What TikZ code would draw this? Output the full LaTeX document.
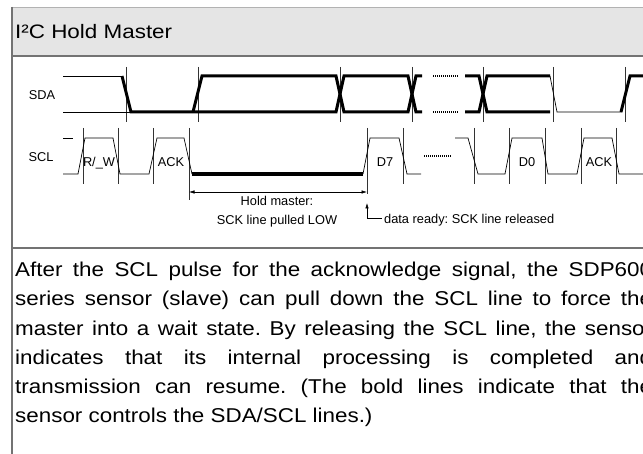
\documentclass[tikz,border=0pt]{standalone}
\usepackage{fontspec}
\setmainfont[FakeStretch=1.15]{Liberation Sans}
\newfontfamily\lblfont{Liberation Sans}
\newfontfamily\bodyfont[FakeStretch=1.12]{Liberation Sans}
\usetikzlibrary{arrows.meta}
\frenchspacing
\begin{document}
\begin{tikzpicture}[x=1pt,y=-1pt,
  thinw/.style={line width=0.7pt},
  boldw/.style={line width=3pt},
  boldlow/.style={line width=4pt},
  guide/.style={line width=0.6pt, black!80},
  dots/.style={line width=1.2pt, dash pattern=on 1pt off 1pt},
  lbl/.style={font=\lblfont\fontsize{12.8}{15}\selectfont, inner sep=0pt, anchor=base},
  body/.style={font=\bodyfont\fontsize{20}{29}\selectfont, inner sep=0pt, anchor=base west},
  frame/.style={line width=1.2pt, black!55},
  dim/.style={line width=0.6pt, {Latex[length=5.5pt,width=3.5pt]}-{Latex[length=5.5pt,width=3.5pt]}},
]
\clip (0,0) rectangle (643,454);
\fill[white] (0,0) rectangle (643,454);
% frame and title band
\fill[black!10] (12,7) rectangle (660,56);
\draw[black!30, line width=0.8pt] (12,7) -- (660,7);
\draw[frame] (12,7) -- (12,460);
\draw[frame] (12,56) -- (660,56);
\draw[frame] (12,248) -- (660,248);
\node[anchor=base west, font=\fontsize{19.5}{23}\selectfont, inner sep=0pt] (title) at (15,39) {I²C Hold Master};

% signal names
\node[lbl] (sda) at (42,100) {SDA};
\node[lbl] (scl) at (41,162) {SCL};

% guides SDA
\foreach \x in {126,198,340,412,483,553,625} \draw[guide] (\x,67) -- (\x,122);
% guides SCL
\foreach \x in {83,118,153,403,474,509,545,581,616} \draw[guide] (\x,128) -- (\x,184);
\draw[guide] (189,128) -- (189,200);
\draw[guide] (367,128) -- (367,194);

% SDA thin
\draw[thinw] (63,76) -- (122,76);
\draw[thinw] (63,112) -- (131,112);
\draw[thinw] (550,76) -- (557,112) -- (622,112);
% SDA bold
\draw[boldw] (122,76) -- (131,112) -- (336,112) -- (344,76) -- (408,76) -- (416,112) -- (422,112);
\draw[boldw] (193,112) -- (202,76) -- (336,76) -- (344,112) -- (408,112) -- (416,76) -- (422,76);
\draw[boldw] (465,76) -- (479,76) -- (487,112) -- (550,112);
\draw[boldw] (465,112) -- (479,112) -- (487,76) -- (550,76);
\draw[boldw] (621,112) -- (630,76) -- (650,76);
\draw[dots] (433,76) -- (459,76);
\draw[dots] (433,112) -- (459,112);

% SCL
\draw[thinw] (63,138) -- (73,138);
\draw[thinw] (63,174) -- (78,174) -- (85,138) -- (113,138) -- (120,174) -- (149,174) -- (157,138) -- (184,138) -- (192,174);
\draw[boldlow] (192,174) -- (363,174);
\draw[thinw] (363,174) -- (370,138) -- (399,138) -- (407,174) -- (421,174);
\draw[dots] (424,156) -- (451,156);
\draw[thinw] (455,138) -- (468,138) -- (478,174) -- (505,174) -- (512,138) -- (542,138) -- (548,174) -- (577,174) -- (584,138) -- (612,138) -- (619,174) -- (650,174);

% bit labels
\node[lbl] (rw) at (99,166.5) {R/\_W};
\node[lbl] (ack1) at (171,166.5) {ACK};
\node[lbl] (d7) at (385,166.5) {D7};
\node[lbl] (d0) at (527,166.5) {D0};
\node[lbl] (ack2) at (599,166.5) {ACK};

% hold master dimension
\coordinate (ha) at (189,192);
\coordinate (hb) at (367,192);
\draw[dim] (ha) -- (hb);
\node[lbl] (hm1) at (277,205.5) {Hold master:};
\node[lbl] (hm2) at (277,224.5) {SCK line pulled LOW};

% data ready
\coordinate (tp) at (367,203);
\coordinate (el) at (367,218);
\coordinate (ee) at (382,218);
\draw[line width=0.6pt, {Latex[length=5.5pt,width=3.5pt]}-] (tp) -- (el) -- (ee);
\node[lbl, anchor=base west] (dr) at (384,223.5) {data ready: SCK line released};

% body text
\node[body] (l1) at (15,277) {\makebox[637pt][s]{After the SCL pulse for the acknowledge signal, the SDP600}};
\node[body] (l2) at (15,306) {\makebox[637pt][s]{series sensor (slave) can pull down the SCL line to force the}};
\node[body] (l3) at (15,335.5) {\makebox[637pt][s]{master into a wait state. By releasing the SCL line, the sensor}};
\node[body] (l4) at (15,364.5) {\makebox[637pt][s]{indicates that its internal processing is completed and}};
\node[body] (l5) at (15,394) {\makebox[637pt][s]{transmission can resume. (The bold lines indicate that the}};
\node[body] (l6) at (15,423) {sensor controls the SDA/SCL lines.)};
\end{tikzpicture}
\end{document}
